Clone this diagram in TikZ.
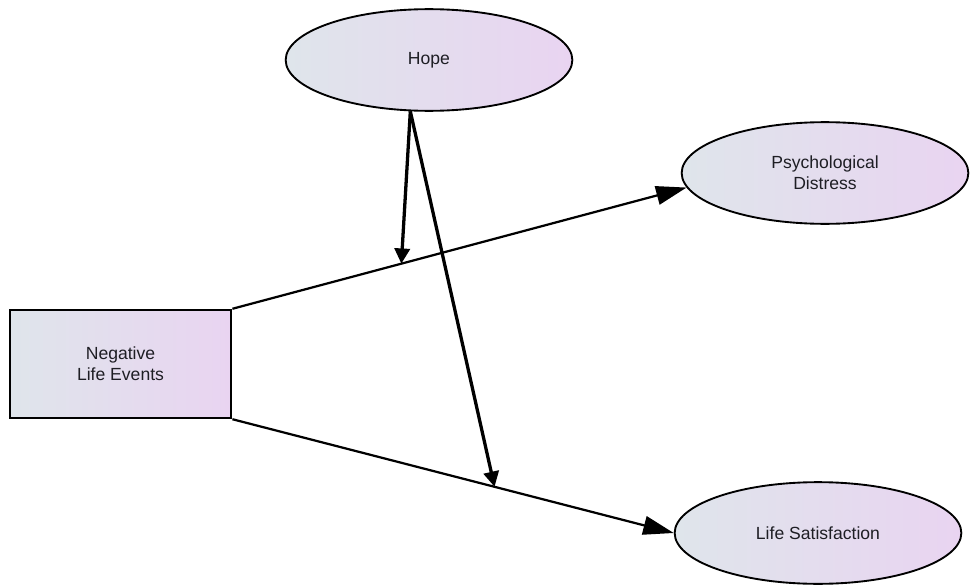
\documentclass[tikz,border=0pt]{standalone}
\usepackage{fontspec}
\setmainfont{Liberation Sans}
\usetikzlibrary{arrows.meta,shapes.geometric,positioning}
\definecolor{shadeleft}{RGB}{223,229,235}
\definecolor{shaderight}{RGB}{233,212,241}
\definecolor{textgrey}{RGB}{30,30,36}
\tikzset{
    %Define standard arrow tip
    >={Triangle[length=26pt,width=16pt]},
    %Define style for latent variables
    latent/.style={
           ellipse,
           draw=black, line width=1.6pt,
           left color=shadeleft, right color=shaderight,
           minimum width=8.6cm,
           minimum height=3.05cm,
           text=textgrey,
           align=center,
           font=\fontsize{15}{18}\selectfont},
    observed/.style={
           rectangle,
           draw=black, line width=1.8pt,
           left color=shadeleft, right color=shaderight,
           minimum width=6.65cm,
           minimum height=3.25cm,
           text=textgrey,
           align=center,
           font=\fontsize{15}{18}\selectfont},
    % Define arrow styles
    pil/.style={
           ->,
           line width=1.9pt},
    modpil/.style={
           ->,
           >={Triangle[length=13pt,width=13pt]},
           line width=2.8pt}
}
\begin{document}
\begin{tikzpicture}[x=0.03cm,y=-0.03cm]
\useasboundingbox (0,0) rectangle (971,587);
 %nodes
\node[observed](neg) at (120.5,364){Negative\\Life Events};
\node[latent](hope) at (429,60){Hope};
\node[latent](dist) at (825,173){Psychological\\Distress};
\node[latent](sat) at (818,533){Life Satisfaction};

 %paths
\draw[pil] (neg.north east) -- coordinate[pos=0.372](m1) (dist.186);
\draw[pil] (neg.south east) -- coordinate[pos=0.594](m2) (sat.west);
\draw[modpil] (hope.250) -- (m1);
\draw[modpil] (hope.250) -- (m2);

\end{tikzpicture}
\end{document}
